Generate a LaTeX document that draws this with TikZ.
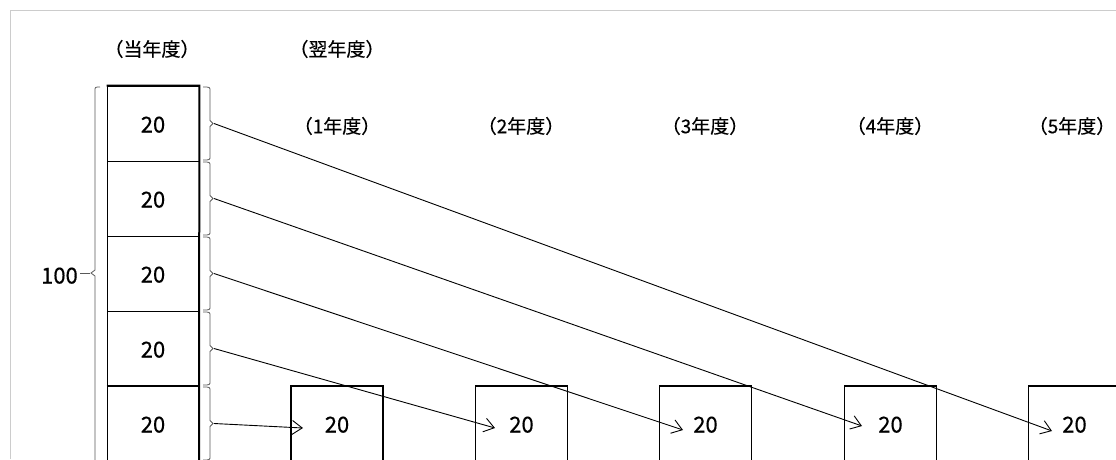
\documentclass[tikz,border=0pt]{standalone}
\usepackage{fontspec}
\setmainfont{Noto Sans CJK JP}[FakeBold=0.4]
\usetikzlibrary{arrows.meta,calc}
\newcommand{\numtxt}[1]{\smash{\raisebox{-9pt}{#1}}}
\begin{document}
\begin{tikzpicture}[x=1pt,y=-1pt,
  thinbox/.style={draw,line width=0.8pt,minimum width=92pt,minimum height=75pt,inner sep=0pt,font=\fontsize{22}{24}\selectfont},
  botbox/.style={draw,line width=1.6pt,minimum width=92pt,minimum height=75pt,inner sep=0pt,font=\fontsize{22}{24}\selectfont},
  lbl/.style={font=\fontsize{19}{22}\selectfont,inner sep=0pt},
  brk/.style={draw=black!65,line width=0.8pt},
  conn/.style={line width=0.9pt,-{Straight Barb[length=10pt,width=14pt,line width=0.9pt]}},
  frame/.style={draw=black!20,line width=1pt}]
\useasboundingbox (0,0) rectangle (1116,459);
% frame
\draw[frame] (10,459) -- (10,10) -- (1116,10);
% labels
\node[lbl] (l0) at (152,49) {（当年度）};
\node[lbl] (l1) at (337,49) {（翌年度）};
\node[lbl] (y1) at (337,126) {（1年度）};
\node[lbl] (y2) at (521,126) {（2年度）};
\node[lbl] (y3) at (705,126) {（3年度）};
\node[lbl] (y4) at (890,126) {（4年度）};
\node[lbl] (y5) at (1072,126) {（5年度）};
% left column
\foreach \i in {1,...,5}{
  \pgfmathsetmacro{\cy}{86+75*(\i-1)+37.5}
  \node[thinbox] (a\i) at (153,\cy) {\numtxt{20}};
}
\draw[line width=2pt] (a1.north west) -- (a1.north east) -- (153+46,470);
\draw[line width=2pt] (a5.north west) -- (a5.north east);
% right brackets
\foreach \i in {1,...,5}{
  \pgfmathsetmacro{\t}{86+75*(\i-1)}
  \pgfmathsetmacro{\m}{\t+37.5}
  \pgfmathsetmacro{\b}{\t+75}
  \draw[brk] (203,\t+1) .. controls (210,\t+1) .. (210,\t+5) -- (210,\m-3) -- (213,\m) -- (210,\m+3) -- (210,\b-5) .. controls (210,\b-1) .. (203,\b-1);
  \coordinate (t\i) at (214,\m);
}
% left brace
\draw[brk] (100,87) .. controls (95,87) .. (95,91) -- (95,270) -- (91,273) -- (95,276) -- (95,470);
\coordinate (lt) at (90,273);
\node[font=\fontsize{22}{24}\selectfont,anchor=east,inner sep=0pt] (hundred) at (78,274.5) {\numtxt{100}};
\draw[brk] (hundred.east) ++(2,-1.5) -- (lt);
% bottom boxes
\node[botbox] (b1) at (337,423.5) {\numtxt{20}};
\node[botbox] (b2) at (521.5,423.5) {\numtxt{20}};
\node[botbox] (b3) at (705.5,423.5) {\numtxt{20}};
\node[botbox] (b4) at (890.5,423.5) {\numtxt{20}};
\node[botbox] (b5) at (1074.5,423.5) {\numtxt{20}};
\coordinate (e1) at (303,428);
\coordinate (e2) at (495,428);
\coordinate (e3) at (683,430);
\coordinate (e4) at (862,426);
\coordinate (e5) at (1052,431);
\draw[conn] (t5) -- (e1);
\draw[conn] (t4) -- (e2);
\draw[conn] (t3) -- (e3);
\draw[conn] (t2) -- (e4);
\draw[conn] (t1) -- (e5);
\end{tikzpicture}
\end{document}
